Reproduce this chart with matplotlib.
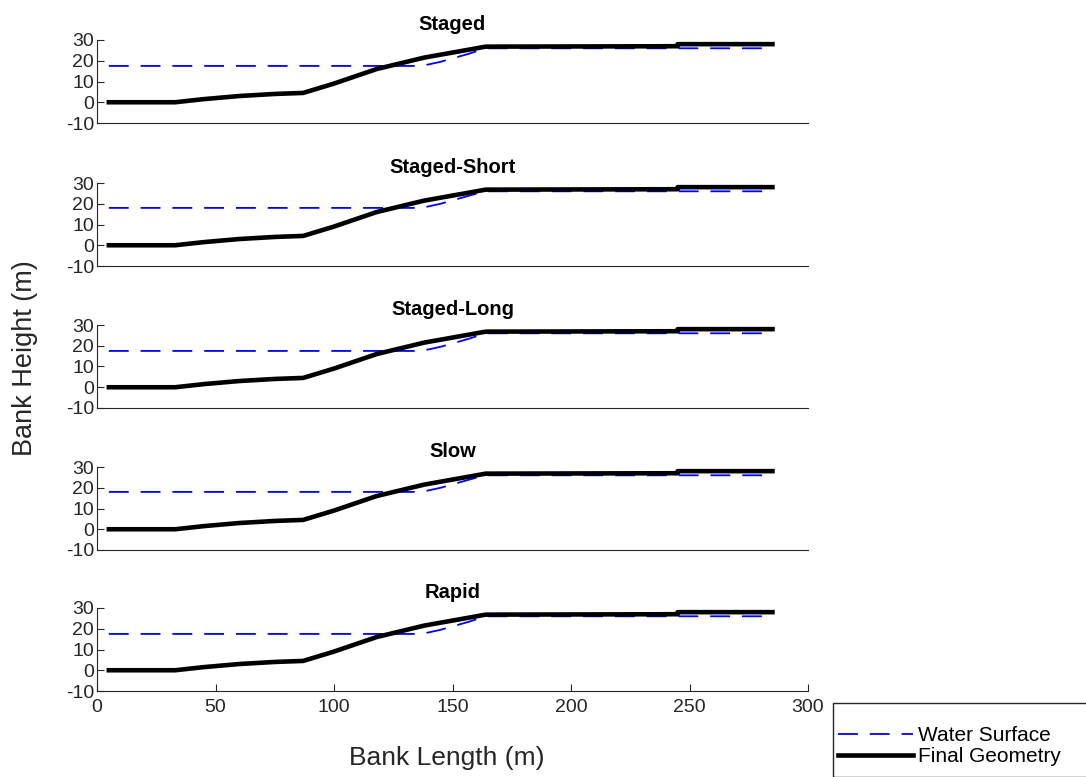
import numpy as np
import matplotlib.pyplot as plt
from matplotlib.patches import Rectangle

plt.rcParams['font.family'] = ['Liberation Sans', 'DejaVu Sans']
plt.rcParams['axes.unicode_minus'] = False

# panel titles and the water level of each run
titles = ['Staged', 'Staged-Short', 'Staged-Long', 'Slow', 'Rapid']
water_level = [17.5, 18.0, 17.5, 18.0, 17.5]

# final bank geometry (same for every run)
geom_x = [5, 33, 45, 60, 75, 87, 100, 118, 138, 164, 245, 245, 285]
geom_y = [0, 0, 1.5, 3, 4, 4.5, 9, 16, 21.5, 26.8, 27, 28, 28]

# water surface shape after the flat part
water_x = [5, 137, 145, 157, 164, 285]
water_rise = [0, 0, 2.0, 5.9, 8.5, 8.5]

xticks = [0, 50, 100, 150, 200, 250, 300]
yticks = [-10, 0, 10, 20, 30]

fig = plt.figure(figsize=(10.86, 7.77), dpi=100)
W, H = 1086.0, 777.0
tops = [40, 183, 325, 467, 608]
ax_h = 83
grey = '#262626'

for i, t in enumerate(titles):
    ax = fig.add_axes([97 / W, 1 - (tops[i] + ax_h) / H, (808 - 97) / W, ax_h / H])
    wy = [water_level[i] + r for r in water_rise]
    wy[-2:] = [26, 26]
    wl, = ax.plot(water_x, wy, color='b', lw=1.3, label='Water Surface')
    wl.set_dashes([11, 6.6])
    ax.plot(geom_x, geom_y, color='k', lw=3.3, label='Final Geometry')
    ax.set_xlim(0, 300)
    ax.set_ylim(-10, 30)
    ax.set_yticks(yticks)
    ax.spines['top'].set_visible(False)
    ax.spines['right'].set_visible(False)
    for s in ['left', 'bottom']:
        ax.spines[s].set_color(grey)
    ax.tick_params(direction='in', length=5, colors=grey, labelsize=14, pad=2)
    ax.set_title(t, fontsize=14.5, fontweight='bold', pad=7)
    if i < len(titles) - 1:
        ax.set_xticks([])
    else:
        ax.set_xticks(xticks)
        ax.tick_params(axis='x', pad=6)
        leg = ax.legend(loc='upper left', bbox_to_anchor=(838 / W, 1 - 726 / H),
                        bbox_transform=fig.transFigure, borderaxespad=0,
                        fontsize=15, handlelength=3.6, handletextpad=0.25,
                        labelspacing=0.1, borderpad=0, frameon=False)

# legend box, runs past the figure edge like the original
fig.patches.append(Rectangle((833 / W, 0), 300 / W, 1 - 703 / H - 0.0,
                             transform=fig.transFigure, facecolor='none',
                             edgecolor=grey, lw=1))

fig.text(25 / W, 1 - 358 / H, 'Bank Height (m)', rotation=90, fontsize=19.5,
         ha='center', va='center', color=grey)
fig.text(447 / W, 1 - 758 / H, 'Bank Length (m)', fontsize=19,
         ha='center', va='center', color=grey)

fig.savefig('out.png', dpi=100)
